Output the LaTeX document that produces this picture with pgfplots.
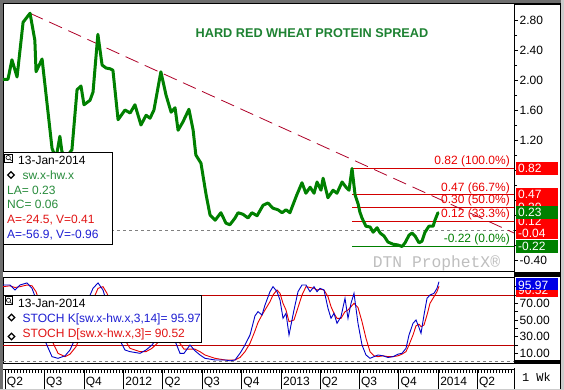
\documentclass[border=0pt]{standalone}
\usepackage{pgfplots}
\usepackage{pgfplotstable}
\pgfplotsset{compat=1.18}
\usepackage{fontspec}
\setmainfont{Liberation Sans}
\newfontfamily\monofont{Liberation Mono}
\definecolor{lineGreen}{RGB}{0,128,0}
\definecolor{titleGreen}{RGB}{30,130,50}
\definecolor{infoGreen}{RGB}{40,140,60}
\definecolor{trendRed}{RGB}{175,0,40}
\definecolor{fibLine}{RGB}{210,0,0}
\definecolor{fibText}{RGB}{235,0,0}
\definecolor{boxRed}{RGB}{255,0,0}
\definecolor{boxGreen}{RGB}{0,128,0}
\definecolor{boxBlue}{RGB}{0,0,230}
\definecolor{kBlue}{RGB}{0,0,200}
\definecolor{dRed}{RGB}{230,0,0}
\definecolor{stochLine}{RGB}{190,0,0}
\definecolor{infoBlue}{RGB}{30,30,210}
\definecolor{infoRed}{RGB}{225,20,20}
\definecolor{frameGray}{RGB}{110,110,110}
\definecolor{wmGray}{RGB}{190,190,190}

\pgfplotstableread{
w K D
-0.66 92 90
1.66 92 91
3.32 86 89
4.98 92 90
7.30 94.5 92
8.96 88 91
10.28 75 84
11.61 50 70
13.27 25 48
15.59 6 25
17.58 4 10
19.90 7 6
21.56 14 9
23.55 30 18
25.54 55 35
27.53 74 55
29.19 88 74
30.85 94.5 88
32.50 86 90
33.83 70 82
35.49 50 66
37.48 30 45
39.80 14 26
41.46 12 16
44.78 10 12
46.77 14 12
48.76 20 16
50.75 30 23
52.74 40 32
54.73 30 34
56.72 22 30
58.04 10 22
59.37 10 15
61.36 20 15
63.02 13 15
64.68 8 12
66.33 4 8
69.65 2 4
72.97 2 2
74.63 1 2
76.29 2 2
77.94 10 5
79.60 20 12
81.26 32 22
82.92 55 37
83.91 60 47
85.24 56 56
86.24 68 62
87.89 84 72
88.89 90 80
90.22 84 86
91.21 74 82
92.21 52 70
93.20 58 62
94.20 32 48
95.85 62 50
97.18 84 65
98.51 92 80
99.83 92 90
101.16 84 89
102.49 90 88
103.48 84 86
104.48 88 87
105.80 86 86
107.13 64 78
108.13 52 66
109.12 58 58
110.12 46 52
111.44 54 52
112.77 76 60
113.76 52 62
114.76 70 66
115.75 82 70
117.08 46 65
118.41 20 48
119.73 8 28
121.06 4 12
122.39 6 7
123.71 8 6
125.37 7 7
127.03 5 6
128.69 6 6
130.35 9 7
131.67 10 9
133.00 16 12
134.00 32 20
135.32 46 32
136.32 50 43
137.31 41 45
137.98 34 42
138.97 56 44
139.97 76 56
140.96 80 70
142.29 82 78
143.28 88 84
143.95 95.97 90.52
}\stoch

\newcommand{\fs}{\fontsize{12bp}{14bp}\selectfont}

\begin{document}
\fs
\begin{tikzpicture}
\path[use as bounding box] (0,0) rectangle (564bp,390bp);
\fill[white] (0,0) rectangle (564bp,390bp);

% ---------------- main panel ----------------
\begin{axis}[
  at={(3bp,119bp)}, anchor=south west,
  scale only axis, width=511bp, height=268bp,
  xmin=-0.663, xmax=168.82, ymin=-0.547, ymax=3.027,
  xtick=\empty,
  ytick={-0.4,0,0.4,0.8,1.2,1.6,2.0,2.4,2.8},
  yticklabels={-0.40,{},{},{},1.20,1.60,2.00,2.40,2.80},
  minor ytick={-0.2,0.2,0.6,1.0,1.4,1.8,2.2,2.6},
  ytick pos=right, yticklabel pos=right,
  tick align=outside,
  major tick length=4bp, minor tick length=3bp,
  tick style={black, line width=0.6bp},
  yticklabel style={font=\fs, inner sep=1.5bp, anchor=west},
  axis line style={black, line width=0.8bp},
  clip=false,
]
\addplot[gray, line width=0.6bp, dash pattern=on 3bp off 3bp] coordinates {(-0.663,0) (168.82,0)};
\addplot[fibLine, line width=0.8bp] coordinates {(115.1,0.82) (168.82,0.82)};
\addplot[fibLine, line width=0.8bp] coordinates {(115.1,0.47) (168.82,0.47)};
\addplot[fibLine, line width=0.8bp] coordinates {(115.1,0.30) (168.82,0.30)};
\addplot[fibLine, line width=0.8bp] coordinates {(115.1,0.12) (168.82,0.12)};
\addplot[lineGreen, line width=0.8bp] coordinates {(115.1,-0.22) (168.82,-0.22)};
\addplot[trendRed, line width=0.8bp, dash pattern=on 14bp off 7bp] coordinates {(8.3,2.89) (168.82,-0.04)};
\addplot[lineGreen, line width=3bp, line join=round, line cap=round] coordinates {
(-0.6,2.01) (1.0,2.01) (2.3,2.27) (4.0,2.04) (6.0,2.77) (8.3,2.89) (9.9,2.53) (10.3,2.11)
(12.3,2.28) (15.6,1.09) (16.9,0.95) (18.2,1.25) (18.9,1.04) (20.5,0.98) (22.2,1.07)
(23.9,1.87) (25.2,1.92) (26.2,1.67) (28.2,1.73) (29.2,1.84) (30.8,2.61) (32.2,2.20)
(33.5,2.16) (34.8,2.15) (35.8,2.13) (37.5,1.47) (39.8,1.60) (41.5,1.56) (43.1,1.67)
(45.1,1.40) (46.8,1.53) (48.1,1.49) (49.4,1.60) (51.7,2.11) (53.4,1.80) (55.1,1.57)
(56.4,1.63) (57.4,1.33) (59.0,1.44) (61.0,1.61) (62.4,1.33) (63.3,1.00) (65.0,0.89)
(66.7,0.47) (68.0,0.20) (69.7,0.13) (71.6,0.23) (73.3,0.09) (74.6,0.07) (76.3,0.16)
(77.3,0.23) (78.9,0.21) (80.6,0.16) (81.9,0.23) (83.6,0.19) (85.6,0.33) (87.2,0.36)
(88.9,0.29) (90.5,0.27) (91.9,0.23) (93.2,0.27) (94.5,0.23) (96.8,0.47) (98.5,0.63)
(99.8,0.49) (101.2,0.57) (102.5,0.49) (103.5,0.64) (104.8,0.53) (105.5,0.69) (107.1,0.43)
(108.8,0.53) (110.1,0.49) (111.8,0.64) (113.1,0.57) (114.1,0.53) (115.1,0.82) (116.1,0.47)
(117.1,0.35) (117.7,0.24) (118.4,0.16) (119.7,0.05) (121.1,0.04) (122.1,-0.03) (123.4,0.03)
(124.4,-0.04) (125.7,-0.08) (127.0,-0.16) (128.7,-0.19) (130.3,-0.20) (131.7,-0.22)
(132.7,-0.17) (134.0,-0.07) (135.0,-0.04) (136.0,-0.08) (137.3,-0.17) (138.3,-0.15)
(139.3,-0.03) (140.6,0.05) (142.0,0.05) (142.6,0.13) (143.6,0.23)};
% fib labels
\node[anchor=base east, inner sep=0, text=fibText, font=\fs, yshift=3.5bp, xshift=-4bp] at (axis cs:168.82,0.82) {0.82 (100.0\%)};
\node[anchor=base east, inner sep=0, text=fibText, font=\fs, yshift=3.5bp, xshift=-4bp] at (axis cs:168.82,0.47) {0.47 (66.7\%)};
\node[anchor=base east, inner sep=0, text=fibText, font=\fs, yshift=3.5bp, xshift=-4bp] at (axis cs:168.82,0.30) {0.30 (50.0\%)};
\node[anchor=base east, inner sep=0, text=fibText, font=\fs, yshift=3.5bp, xshift=-4bp] at (axis cs:168.82,0.12) {0.12 (33.3\%)};
\node[anchor=base east, inner sep=0, text=lineGreen, font=\fs, yshift=3.5bp, xshift=-4bp] at (axis cs:168.82,-0.22) {-0.22 (0.0\%)};
% right value boxes
\tikzset{vbox/.style={anchor=west, xshift=2bp, minimum width=42bp, minimum height=13bp, inner ysep=0, inner xsep=2bp, text width=38bp, align=left, text=white, font=\fs}}
\node[vbox, fill=boxRed] at (axis cs:168.82,0.82) {0.82};
\node[vbox, fill=boxRed] at (axis cs:168.82,0.47) {0.47};
\node[vbox, fill=boxRed] at (axis cs:168.82,0.30) {0.30};
\node[vbox, fill=boxRed] at (axis cs:168.82,0.12) {0.12};
\node[vbox, fill=boxRed] at (axis cs:168.82,-0.04) {-0.04};
\node[vbox, fill=boxGreen] at (axis cs:168.82,-0.22) {-0.22};
\node[vbox, fill=boxGreen] at (axis cs:168.82,0.23) {0.23};
\end{axis}

% ---------------- stochastics panel ----------------
\begin{axis}[
  at={(3bp,27.1bp)}, anchor=south west,
  scale only axis, width=511bp, height=85.9bp,
  xmin=-0.663, xmax=168.82, ymin=-1.5, ymax=101.6,
  xtick=\empty,
  ytick={10,30,50,70},
  yticklabels={10.00,30.00,50.00,70.00},
  minor ytick={20,40,60,80,90},
  ytick pos=right, yticklabel pos=right,
  tick align=outside,
  major tick length=4bp, minor tick length=4bp,
  tick style={black, line width=0.6bp},
  yticklabel style={font=\fs, inner sep=1.5bp, anchor=west},
  axis line style={black, line width=0.8bp},
  clip=false,
]
\addplot[gray, line width=0.6bp, dash pattern=on 3bp off 3bp] coordinates {(-0.663,0) (168.82,0)};
\addplot[stochLine, line width=0.9bp] coordinates {(-0.663,80) (168.82,80)};
\addplot[stochLine, line width=0.9bp] coordinates {(-0.663,20) (168.82,20)};
\addplot[dRed, line width=0.9bp] table[x=w, y=D] {\stoch};
\addplot[kBlue, line width=0.9bp] table[x=w, y=K] {\stoch};
\end{axis}

% ---------------- time ruler ----------------
\begin{axis}[
  at={(3bp,0bp)}, anchor=south west,
  scale only axis, width=511bp, height=21bp,
  xmin=-0.663, xmax=168.82, ymin=0, ymax=1,
  axis x line=top, axis y line=none,
  axis line style={-, black, line width=0.8bp},
  xtick={0,13,26.14,39.29,52.29,65.29,78.43,91.57,104.43,117.43,130.57,143.71,156.57},
  xticklabels={},
  minor xtick={0,1,...,168},
  tick align=inside,
  major tick length=21bp, minor tick length=4bp,
  tick style={black, line width=0.6bp},
  clip=false,
]
\addplot[draw=none] coordinates {(0,0.5)};
\tikzset{tl/.style={anchor=base west, inner sep=0, xshift=1.8bp, font=\fs}}
\node[tl] at (axis cs:0,0.21) {Q2};
\node[tl] at (axis cs:13,0.21) {Q3};
\node[tl] at (axis cs:26.14,0.21) {Q4};
\node[tl] at (axis cs:39.29,0.21) {2012};
\node[tl] at (axis cs:52.29,0.21) {Q2};
\node[tl] at (axis cs:65.29,0.21) {Q3};
\node[tl] at (axis cs:78.43,0.21) {Q4};
\node[tl] at (axis cs:91.57,0.21) {2013};
\node[tl] at (axis cs:104.43,0.21) {Q2};
\node[tl] at (axis cs:117.43,0.21) {Q3};
\node[tl] at (axis cs:130.57,0.21) {Q4};
\node[tl] at (axis cs:143.71,0.21) {2014};
\node[tl] at (axis cs:156.57,0.21) {Q2};
\end{axis}

% ---------------- decorations in pixel coordinates ----------------
\begin{scope}[x=1bp, y=1bp]
% title
\node[font=\bfseries\fontsize{12.7bp}{15bp}\selectfont, text=titleGreen, inner sep=0] at (312,357.2) {HARD RED WHEAT PROTEIN SPREAD};
% watermark
\node[font=\monofont\fontsize{16.3bp}{18bp}\selectfont, text=wmGray, anchor=base, inner sep=0] at (436.5,122.5) {DTN ProphetX®};

% main info box
\draw[black, line width=0.8bp, fill=white] (3,237.3) rectangle (112.3,146);
\draw[line width=0.6bp] (4.5,236) rectangle (12.5,228);
\draw[line width=0.6bp] (8.2,232.4) circle (2.2);
\draw[line width=0.6bp] (9.8,230.8) -- (11.6,229.2);
\node[anchor=base west, inner sep=0] at (18,225.7) {13-Jan-2014};
\draw[line width=1.3bp] (11,218.3) -- (14.3,215) -- (11,211.7) -- (7.7,215) -- cycle;
\node[anchor=base west, inner sep=0, text=infoGreen] at (22.5,211) {sw.x-hw.x};
\node[anchor=base west, inner sep=0, text=infoGreen] at (7,196) {LA= 0.23};
\node[anchor=base west, inner sep=0, text=infoGreen] at (7,181.2) {NC= 0.06};
\node[anchor=base west, inner sep=0, text=infoRed] at (7,166.2) {A=-24.5, V=0.41};
\node[anchor=base west, inner sep=0, text=infoBlue] at (7,151.2) {A=-56.9, V=-0.96};

% stoch info box
\draw[black, line width=0.8bp, fill=white] (3,94.3) rectangle (201.5,47.7);
\draw[line width=0.6bp] (5,93.2) rectangle (12.5,85.7);
\draw[line width=0.6bp] (8.5,89.7) circle (2.1);
\draw[line width=0.6bp] (10,88.2) -- (11.7,86.5);
\node[anchor=base west, inner sep=0] at (18,82.7) {13-Jan-2014};
\draw[line width=1.3bp] (11.5,75.8) -- (14.8,72.5) -- (11.5,69.2) -- (8.2,72.5) -- cycle;
\node[anchor=base west, inner sep=0, text=infoBlue] at (22.5,67.7) {STOCH K[sw.x-hw.x,3,14]= 95.97};
\draw[line width=1.3bp] (11.5,56.8) -- (14.8,53.5) -- (11.5,50.2) -- (8.2,53.5) -- cycle;
\node[anchor=base west, inner sep=0, text=infoRed] at (22.5,52.3) {STOCH D[sw.x-hw.x,3]= 90.52};

% stoch right boxes
\fill[boxRed] (516,105.5) rectangle (558,93);
\node[anchor=base west, inner sep=0, text=white] at (518,95.2) {90.52};
\fill[boxBlue] (516,112) rectangle (558,99.5);
\node[anchor=base west, inner sep=0, text=white] at (518,101) {95.97};

% right column furniture
\fill[black] (514,388.3) rectangle (560,385);
\fill[black] (514,118.3) rectangle (560,113.3);
\fill[black] (514,30) rectangle (560,26);
\draw[black, line width=0.8bp] (560,0) -- (560,390);
\draw[black, line width=0.8bp] (514,0) -- (514,22);
\node[font=\monofont\fontsize{12bp}{14bp}\selectfont, anchor=base, inner sep=0] at (536.5,8.3) {1 Wk};

% outer frame
\fill[frameGray] (0,0) rectangle (2.6,390);
\fill[frameGray] (0,387.4) rectangle (564,390);
\fill[gray!40] (561,0) rectangle (564,390);
\fill[gray!40] (0,0) rectangle (564,1.2);
\end{scope}
\end{tikzpicture}
\end{document}
